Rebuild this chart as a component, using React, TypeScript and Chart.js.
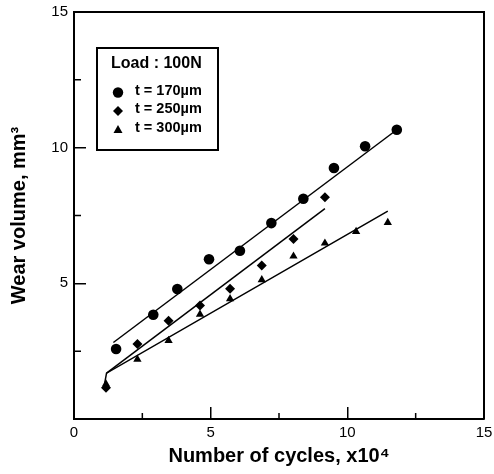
import React, { useEffect, useRef } from "react";
import { Chart, registerables } from "chart.js";

Chart.register(...registerables);

// Data (x: cycles ×10^4, y: wear volume mm³)
const circleX = [1.54, 2.9, 3.78, 4.94, 6.07, 7.22, 8.39, 9.51, 10.65, 11.81];
const circleY = [2.58, 3.84, 4.79, 5.89, 6.2, 7.22, 8.12, 9.25, 10.05, 10.66];
const diamondX = [1.17, 2.32, 3.46, 4.61, 5.71, 6.87, 8.03, 9.18];
const diamondY = [1.15, 2.76, 3.62, 4.18, 4.8, 5.66, 6.63, 8.17];
const triangleX = [1.17, 2.32, 3.46, 4.61, 5.71, 6.87, 8.03, 9.18, 10.32, 11.48];
const triangleY = [1.29, 2.2, 2.89, 3.86, 4.43, 5.13, 6.0, 6.48, 6.91, 7.24];

// Fitted lines (end points)
const circleFitX = [1.44, 11.81];
const circleFitY = [2.82, 10.66];
const diamondFitX = [1.19, 9.18];
const diamondFitY = [1.69, 7.75];
const triangleFitX = [1.12, 1.19, 11.48];
const triangleFitY = [1.3, 1.69, 7.66];

const legendTitle = "Load : 100N";
const legendLabels = ["t = 170µm", "t = 250µm", "t = 300µm"];
const xTitle = "Number of cycles, x10⁴";
const yTitle = "Wear volume, mm³";
const axisMin = 0;
const axisMax = 15;
const majorStep = 5;
const minorTicks = [2.5, 7.5, 12.5];

const pts = (xs: number[], ys: number[]) => xs.map((x, i) => ({ x, y: ys[i] }));

const FONT = "'Liberation Sans', Arial, Helvetica, sans-serif";

const framePlugin = {
  id: "frameAndMinor",
  afterDraw(chart: any) {
    const { ctx, chartArea, scales } = chart;
    ctx.save();
    ctx.strokeStyle = "#000";
    ctx.lineWidth = 2;
    ctx.beginPath();
    ctx.moveTo(chartArea.left, chartArea.top);
    ctx.lineTo(chartArea.right, chartArea.top);
    ctx.lineTo(chartArea.right, chartArea.bottom);
    ctx.stroke();
    ctx.lineWidth = 1.5;
    ctx.beginPath();
    for (const v of minorTicks) {
      const px = scales.x.getPixelForValue(v);
      ctx.moveTo(px, chartArea.bottom);
      ctx.lineTo(px, chartArea.bottom - 6);
      const py = scales.y.getPixelForValue(v);
      ctx.moveTo(chartArea.left, py);
      ctx.lineTo(chartArea.left + 7, py);
    }
    ctx.stroke();

    // Legend box
    const bx = 97, by = 48, bw = 121, bh = 102;
    ctx.lineWidth = 2;
    ctx.strokeRect(bx, by, bw, bh);
    ctx.fillStyle = "#000";
    ctx.font = `bold 16px ${FONT}`;
    ctx.textBaseline = "alphabetic";
    ctx.textAlign = "left";
    ctx.fillText(legendTitle, 111, 68);
    ctx.font = `bold 14.5px ${FONT}`;
    ctx.textBaseline = "middle";
    const rows = [91, 109, 128];
    const mx = 118;
    legendLabels.forEach((lbl, i) => {
      const y = rows[i];
      ctx.beginPath();
      if (i === 0) {
        ctx.arc(mx, y + 1.5, 5.2, 0, Math.PI * 2);
      } else if (i === 1) {
        ctx.moveTo(mx - 5, y + 2);
        ctx.lineTo(mx, y - 3);
        ctx.lineTo(mx + 5, y + 2);
        ctx.lineTo(mx, y + 7);
        ctx.closePath();
      } else {
        ctx.moveTo(mx - 4.5, y + 5);
        ctx.lineTo(mx, y - 3);
        ctx.lineTo(mx + 4.5, y + 5);
        ctx.closePath();
      }
      ctx.fill();
      ctx.fillText(lbl, 135, y);
    });
    ctx.restore();
  },
};

export default function App() {
  const ref = useRef<HTMLCanvasElement | null>(null);
  useEffect(() => {
    if (!ref.current) return;
    const markerCommon = {
      showLine: false,
      backgroundColor: "#000",
      borderColor: "#000",
      borderWidth: 0,
    };
    const lineCommon = {
      showLine: true,
      pointRadius: 0,
      borderColor: "#000",
      borderWidth: 1.5,
      fill: false,
    };
    const chart = new Chart(ref.current, {
      type: "scatter",
      data: {
        datasets: [
          { ...lineCommon, data: pts(circleFitX, circleFitY) },
          { ...lineCommon, data: pts(diamondFitX, diamondFitY) },
          { ...lineCommon, data: pts(triangleFitX, triangleFitY) },
          { ...markerCommon, data: pts(circleX, circleY), pointStyle: "circle", pointRadius: 5.3 },
          { ...markerCommon, data: pts(diamondX, diamondY), pointStyle: "rectRot", pointRadius: 5 },
          { ...markerCommon, data: pts(triangleX, triangleY), pointStyle: "triangle", pointRadius: 4.8 },
        ] as any,
      },
      options: {
        animation: false,
        responsive: false,
        devicePixelRatio: 1,
        layout: { padding: { top: 12, right: 10, left: 0, bottom: 0 } },
        plugins: { legend: { display: false }, tooltip: { enabled: false } },
        scales: {
          x: {
            type: "linear",
            min: axisMin,
            max: axisMax,
            afterFit: (s: any) => {
              s.height = 55;
              s.paddingLeft = 0;
              s.paddingRight = 0;
              s.paddingTop = 0;
              s.paddingBottom = 0;
            },
            ticks: {
              stepSize: majorStep,
              color: "#000",
              font: { family: FONT, size: 15 },
              padding: 17,
              maxRotation: 0,
            },
            grid: { drawOnChartArea: false, tickLength: -12, color: "#000", lineWidth: 1.5 },
            border: { display: true, color: "#000", width: 2 },
            title: {
              display: true,
              text: xTitle,
              color: "#000",
              font: { family: FONT, size: 20, weight: "bold" },
              padding: { top: 0, bottom: 6 },
            },
          },
          y: {
            type: "linear",
            min: axisMin,
            max: axisMax,
            afterFit: (s: any) => {
              s.width = 74;
              s.paddingLeft = 0;
              s.paddingRight = 0;
              s.paddingTop = 0;
              s.paddingBottom = 0;
            },
            ticks: {
              stepSize: majorStep,
              color: "#000",
              font: { family: FONT, size: 15 },
              padding: 18,
              callback: (v: any) => (v === 0 ? "" : String(v)),
            },
            grid: { drawOnChartArea: false, tickLength: -12, color: "#000", lineWidth: 1.5 },
            border: { display: true, color: "#000", width: 2 },
            title: {
              display: true,
              text: yTitle,
              color: "#000",
              font: { family: FONT, size: 20, weight: "bold" },
              padding: { top: 7, bottom: 0 },
            },
          },
        },
      },
      plugins: [framePlugin],
    } as any);
    return () => chart.destroy();
  }, []);
  return (
    <div style={{ position: "absolute", left: 0, top: 0, width: 494, height: 474, background: "#fff" }}>
      <canvas ref={ref} width={494} height={474} style={{ display: "block" }} />
    </div>
  );
}
